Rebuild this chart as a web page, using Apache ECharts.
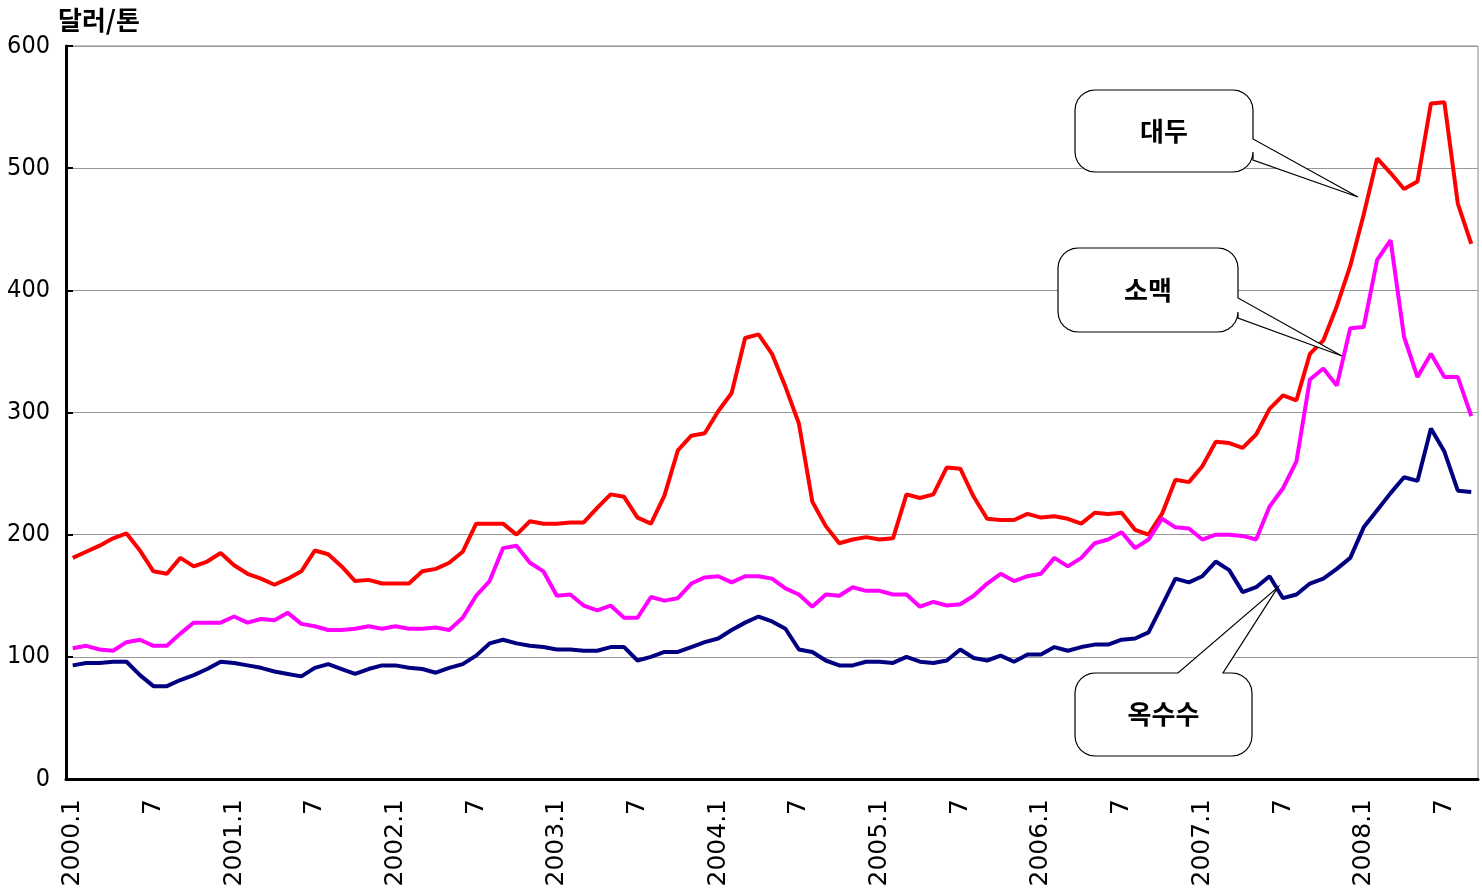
<!DOCTYPE html>
<html>
<head>
<meta charset="utf-8">
<script src="https://cdn.jsdelivr.net/npm/echarts@6/dist/echarts.min.js"></script>
<style>
	html, body { margin: 0; padding: 0; background: #fff; }
	#chart { width: 1482px; height: 893px; }
</style>
</head>
<body>
<div id="chart"></div>
<script>
// 2000.1 ~ 2008.9 월별
const years = [2000, 2001, 2002, 2003, 2004, 2005, 2006, 2007, 2008];
const lastMonth = 9;
const yTicks = [0, 100, 200, 300, 400, 500, 600];

// 대두 (달러/톤)
const soybean = [
	181, 186, 191, 197, 201, 187, 170, 168, 181, 174, 178, 185,
	175, 168, 164, 159, 164, 170, 187, 184, 174, 162, 163, 160,
	160, 160, 170, 172, 177, 186, 209, 209, 209, 200, 211, 209,
	209, 210, 210, 222, 233, 231, 214, 209, 232, 269, 281, 283,
	301, 316, 361, 364, 348, 321, 291, 227, 207, 193, 196, 198,
	196, 197, 233, 230, 233, 255, 254, 231, 213, 212, 212, 217,
	214, 215, 213, 209, 218, 217, 218, 204, 200, 217, 245, 243,
	256, 276, 275, 271, 282, 303, 314, 310, 348, 359, 387, 420,
	462, 508, 496, 483, 489, 553, 554, 471, 438
];
// 소맥
const wheat = [
	107, 109, 106, 105, 112, 114, 109, 109, 119, 128, 128, 128,
	133, 128, 131, 130, 136, 127, 125, 122, 122, 123, 125, 123,
	125, 123, 123, 124, 122, 132, 150, 162, 189, 191, 177, 170,
	150, 151, 142, 138, 142, 132, 132, 149, 146, 148, 160, 165,
	166, 161, 166, 166, 164, 156, 151, 141, 151, 150, 157, 154,
	154, 151, 151, 141, 145, 142, 143, 150, 160, 168, 162, 166,
	168, 181, 174, 181, 193, 196, 202, 189, 196, 213, 206, 205,
	196, 200, 200, 199, 196, 223, 238, 260, 327, 336, 322, 369,
	370, 425, 441, 362, 329, 348, 329, 329, 297
];
// 옥수수
const corn = [
	93, 95, 95, 96, 96, 85, 76, 76, 81, 85, 90, 96,
	95, 93, 91, 88, 86, 84, 91, 94, 90, 86, 90, 93,
	93, 91, 90, 87, 91, 94, 101, 111, 114, 111, 109, 108,
	106, 106, 105, 105, 108, 108, 97, 100, 104, 104, 108, 112,
	115, 122, 128, 133, 129, 123, 106, 104, 97, 93, 93, 96,
	96, 95, 100, 96, 95, 97, 106, 99, 97, 101, 96, 102,
	102, 108, 105, 108, 110, 110, 114, 115, 120, 142, 164, 161,
	166, 178, 171, 153, 157, 166, 148, 151, 160, 164, 172, 181,
	206, 220, 234, 247, 244, 287, 268, 236, 235
];

const months = [];
years.forEach(y => {
	const end = y === 2008 ? lastMonth : 12;
	for (let m = 1; m <= end; m++) months.push(y + '.' + m);
});

// 말풍선: 상자 [x0, y0, x1, y1], 꼬리 [변, 시작, 끝, 끝점x, 끝점y]
const callouts = [
	{ text: '대두', box: [1075, 90, 1253, 172], tail: ['r', 139, 160, 1358, 197] },
	{ text: '소맥', box: [1058, 248, 1238, 332], tail: ['r', 298, 318, 1342, 356] },
	{ text: '옥수수', box: [1075, 673, 1252, 756], tail: ['t', 1178, 1223, 1278, 587] }
];

// 둥근 모서리 (1/4 원)
function corner(pts, cx, cy, r, a0) {
	for (let k = 0; k <= 6; k++) {
		const a = (a0 + k * 15) * Math.PI / 180;
		pts.push([cx + r * Math.cos(a), cy + r * Math.sin(a)]);
	}
}

function bubblePoints(c) {
	const [x0, y0, x1, y1] = c.box;
	const r = 20;
	const t = c.tail;
	const pts = [];
	corner(pts, x0 + r, y0 + r, r, 180);
	if (t[0] === 't') {
		pts.push([t[1], y0], [t[3], t[4]], [t[2], y0]);
	}
	corner(pts, x1 - r, y0 + r, r, 270);
	if (t[0] === 'r') {
		pts.push([x1, t[1]], [t[3], t[4]], [x1, t[2]]);
	}
	corner(pts, x1 - r, y1 - r, r, 0);
	corner(pts, x0 + r, y1 - r, r, 90);
	return pts;
}

const graphics = [{
	type: 'text', x: 58, y: 7,
	style: { text: '달러/톤', font: 'bold 26px "Noto Sans CJK KR"', fill: '#000' }
}];
callouts.forEach(c => {
	graphics.push({
		type: 'polygon', z: 50,
		shape: { points: bubblePoints(c) },
		style: { fill: '#fff', stroke: '#000', lineWidth: 1.2 }
	});
	graphics.push({
		type: 'text', z: 51,
		x: (c.box[0] + c.box[2]) / 2, y: (c.box[1] + c.box[3]) / 2,
		style: {
			text: c.text, font: 'bold 26px "Noto Sans CJK KR"', fill: '#000',
			align: 'center', verticalAlign: 'middle'
		}
	});
});

const chart = echarts.init(document.getElementById('chart'));
const option = {
	animation: false,
	grid: {
		left: 66, right: 4, top: 46, bottom: 114,
		show: true, borderColor: '#888', borderWidth: 1
	},
	xAxis: {
		type: 'category',
		data: months,
		boundaryGap: true,
		axisLine: { lineStyle: { color: '#000', width: 3 } },
		axisTick: { inside: true, length: 6, interval: 0, lineStyle: { color: '#000', width: 2 } },
		axisLabel: {
			interval: 0, rotate: 90, margin: 20,
			fontFamily: 'DejaVu Sans', fontSize: 25, color: '#000',
			formatter: v => {
				const m = v.split('.')[1];
				if (m === '1') return v;
				if (m === '7') return '7';
				return '';
			}
		},
		splitLine: { show: false }
	},
	yAxis: {
		type: 'value',
		min: yTicks[0], max: yTicks[yTicks.length - 1], interval: 100,
		axisLine: { show: true, lineStyle: { color: '#000', width: 3 } },
		axisTick: { show: true, inside: true, length: 7, lineStyle: { color: '#000', width: 2 } },
		axisLabel: {
			margin: 16, fontSize: 25, color: '#000',
			fontFamily: '"Liberation Sans Narrow", "DejaVu Sans Condensed", "Liberation Sans", sans-serif'
		},
		splitLine: { lineStyle: { color: '#999', width: 1 } }
	},
	series: [
		{ name: '대두', type: 'line', data: soybean, symbol: 'none', lineStyle: { color: '#ff0000', width: 4 } },
		{ name: '소맥', type: 'line', data: wheat, symbol: 'none', lineStyle: { color: '#ff00ff', width: 4 } },
		{ name: '옥수수', type: 'line', data: corn, symbol: 'none', lineStyle: { color: '#000080', width: 4 } }
	],
	graphic: graphics
};
chart.setOption(option);
</script>
</body>
</html>
